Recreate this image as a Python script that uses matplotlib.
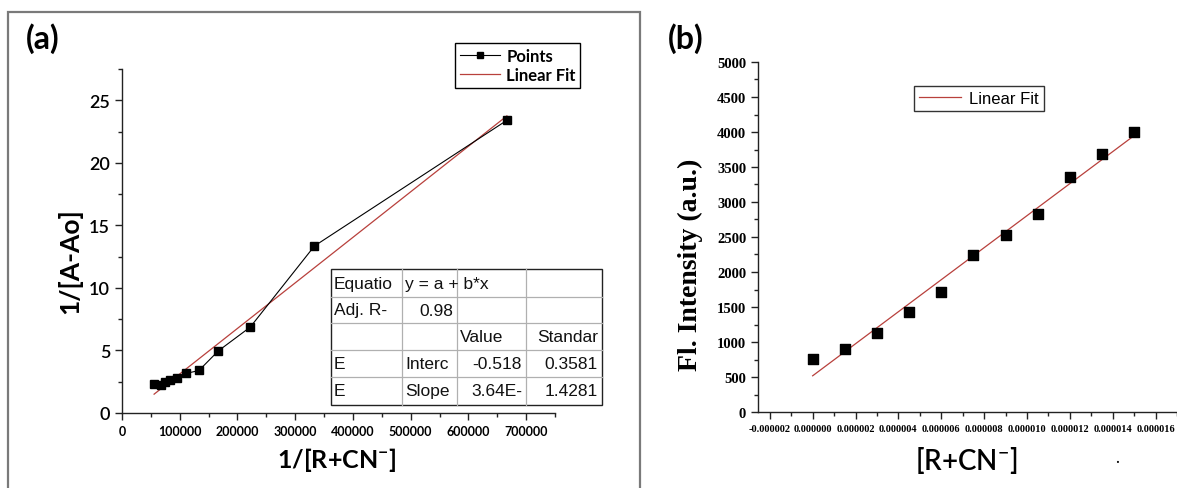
import numpy as np
import matplotlib
matplotlib.use("Agg")
import matplotlib.pyplot as plt
from matplotlib.lines import Line2D
from matplotlib.patches import Rectangle
from matplotlib.ticker import MultipleLocator, FuncFormatter, FixedLocator

# ---------------- data ----------------
# panel (a): 1/[R+CN-] vs 1/[A-A0]
a_x = [55600, 66700, 74100, 83300, 95200, 111100, 133300, 166700, 222200, 333300, 666700]
a_y = [2.34, 2.26, 2.47, 2.65, 2.79, 3.16, 3.40, 4.96, 6.87, 13.35, 23.4]
a_intercept = -0.518
a_slope = 3.64e-5
a_xticks = [0, 100000, 200000, 300000, 400000, 500000, 600000, 700000]
a_yticks = [0, 5, 10, 15, 20, 25]

# fit table text
table_rows = [
    ["Equatio", "y = a + b*x", "", ""],
    ["Adj. R-", "0.98", "", ""],
    ["", "", "Value", "Standar"],
    ["E", "Interc", "-0.518", "0.3581"],
    ["E", "Slope", "3.64E-", "1.4281"],
]

# panel (b): [R+CN-] vs fluorescence intensity
b_x = [0.0, 1.5e-6, 3.0e-6, 4.5e-6, 6.0e-6, 7.5e-6, 9.0e-6, 10.5e-6, 12.0e-6, 13.5e-6, 15.0e-6]
b_y = [752, 895, 1124, 1429, 1714, 2238, 2529, 2833, 3357, 3690, 4000]
b_xticks = [-2e-6, 0.0, 2e-6, 4e-6, 6e-6, 8e-6, 10e-6, 12e-6, 14e-6, 16e-6]
b_yticks = [0, 500, 1000, 1500, 2000, 2500, 3000, 3500, 4000, 4500, 5000]

# ---------------- figure ----------------
W, H = 1177, 489
fig = plt.figure(figsize=(W / 100, H / 100), dpi=100)
fig.patch.set_facecolor("white")

def fx(px):
    return px / W

def fy(py):
    return 1 - py / H

RED = "#b8403c"
SANS = ["Lato", "DejaVu Sans"]
SERIF = ["Liberation Serif", "DejaVu Serif"]
ARIAL = ["Liberation Sans", "DejaVu Sans"]
plt.rcParams["mathtext.default"] = "regular"

# frame around panel (a)
fig.add_artist(Rectangle((fx(8), fy(495)), fx(640) - fx(8), fy(13) - fy(495),
                         transform=fig.transFigure, fill=False,
                         edgecolor="#7a7a7a", linewidth=1.6))

# ---------------- panel (a) ----------------
axa = fig.add_axes([fx(122), fy(414), fx(555) - fx(122), fy(70) - fy(414)])
axa.plot(a_x, a_y, color="black", lw=0.8, marker="s", ms=6, mfc="black", mec="black", zorder=3)
xf = np.array([min(a_x), max(a_x)])
axa.plot(xf, a_intercept + a_slope * xf, color=RED, lw=0.9, zorder=2)
axa.set_xlim(0, 750000)
axa.set_ylim(0, 27.5)
axa.xaxis.set_major_locator(FixedLocator(a_xticks))
axa.xaxis.set_minor_locator(MultipleLocator(50000))
axa.yaxis.set_major_locator(FixedLocator(a_yticks))
axa.yaxis.set_minor_locator(MultipleLocator(2.5))
axa.xaxis.set_major_formatter(FuncFormatter(lambda v, p: f"{int(round(v))}"))
for s in ["top", "right"]:
    axa.spines[s].set_visible(False)
for s in ["left", "bottom"]:
    axa.spines[s].set_linewidth(1.0)
    axa.spines[s].set_color("#222222")
axa.tick_params(which="major", direction="out", length=5, width=1, color="#222222")
axa.tick_params(which="minor", direction="out", length=3, width=1, color="#222222")
for lab in axa.get_xticklabels():
    lab.set_family(SANS); lab.set_fontweight("bold"); lab.set_fontsize(9)
for lab in axa.get_yticklabels():
    lab.set_family(SANS); lab.set_fontsize(13); lab.set_fontweight(600)
axa.set_xlabel("1/[R+CN$^{-}$]", family=SANS, fontweight="bold", fontsize=18)
axa.set_ylabel("1/[A-Ao]", family=SANS, fontweight="bold", fontsize=19)
axa.xaxis.set_label_coords((337 - 122) / (555 - 122), -(460 - 414) / (414 - 70), transform=axa.transAxes)
axa.yaxis.set_label_coords(-(122 - 70) / (555 - 122), (414 - 261) / (414 - 70), transform=axa.transAxes)
axa.xaxis.label.set_va("center")
axa.yaxis.label.set_va("center")

h_pts = Line2D([], [], color="black", lw=0.8, marker="s", ms=5, mfc="black")
h_fit = Line2D([], [], color=RED, lw=0.9)
lega = fig.legend([h_pts, h_fit], ["Points", "Linear Fit"], loc="upper left",
                  bbox_to_anchor=(fx(455), fy(44)), bbox_transform=fig.transFigure,
                  prop={"family": SANS, "weight": "bold", "size": 12},
                  frameon=True, fancybox=False, edgecolor="black", framealpha=1,
                  handlelength=2.4, handletextpad=0.4, borderpad=0.28, labelspacing=0.2,
                  numpoints=1, borderaxespad=0)
lega.get_frame().set_linewidth(1.0)

fig.text(fx(43), fy(39), "(a)", family=SANS, fontweight="bold", fontsize=23,
         ha="center", va="center")

# fit table
col_x = [331, 402, 457, 526, 602]
row_y = [270, 298, 324, 351, 378, 406]
fig.add_artist(Rectangle((fx(col_x[0]), fy(row_y[-1])), fx(col_x[-1]) - fx(col_x[0]),
                         fy(row_y[0]) - fy(row_y[-1]), transform=fig.transFigure,
                         facecolor="white", edgecolor="#222222", linewidth=1.0, zorder=5))
for yy in row_y[1:-1]:
    fig.add_artist(Line2D([fx(col_x[0]), fx(col_x[-1])], [fy(yy), fy(yy)],
                          transform=fig.transFigure, color="#b0b0b0", lw=0.9, zorder=6))
for xx in col_x[1:-1]:
    fig.add_artist(Line2D([fx(xx), fx(xx)], [fy(row_y[0]), fy(row_y[-1])],
                          transform=fig.transFigure, color="#b0b0b0", lw=0.9, zorder=6))
align = [
    ["l", "l", "l", "l"],
    ["l", "r", "l", "l"],
    ["l", "l", "l", "r"],
    ["l", "l", "r", "r"],
    ["l", "l", "r", "r"],
]
for r, row in enumerate(table_rows):
    yc = (row_y[r] + row_y[r + 1]) / 2
    for c, txt in enumerate(row):
        if not txt:
            continue
        if align[r][c] == "l":
            xp, ha = col_x[c] + 3, "left"
        else:
            xp, ha = col_x[c + 1] - 4, "right"
        fig.text(fx(xp), fy(yc), txt, family=ARIAL, fontsize=12.5, ha=ha, va="center",
                 color="#111111", zorder=7)

# ---------------- panel (b) ----------------
axb = fig.add_axes([fx(758), fy(413), fx(1177) - fx(758), fy(63) - fy(413)])
axb.scatter(b_x, b_y, marker="s", s=55, color="black", zorder=3)
cb = np.polyfit(b_x, b_y, 1)
xb = np.array([min(b_x), max(b_x)])
axb.plot(xb, np.polyval(cb, xb), color=RED, lw=0.9, zorder=2)
axb.set_xlim(-2.55e-6, 1.7e-5)
axb.set_ylim(0, 5000)
axb.xaxis.set_major_locator(FixedLocator(b_xticks))
axb.xaxis.set_minor_locator(MultipleLocator(1e-6))
axb.yaxis.set_major_locator(FixedLocator(b_yticks))
axb.yaxis.set_minor_locator(MultipleLocator(250))
axb.xaxis.set_major_formatter(FuncFormatter(lambda v, p: f"{v:.6f}" if abs(v) > 1e-12 else "0.000000"))
for s in ["top", "right"]:
    axb.spines[s].set_visible(False)
for s in ["left", "bottom"]:
    axb.spines[s].set_linewidth(1.0)
    axb.spines[s].set_color("#222222")
axb.tick_params(which="major", direction="out", length=5, width=1, color="#222222")
axb.tick_params(which="minor", direction="out", length=3, width=1, color="#222222")
for lab in axb.get_xticklabels():
    lab.set_family(SERIF); lab.set_fontweight("bold"); lab.set_fontsize(7.5)
for lab in axb.get_yticklabels():
    lab.set_family(SERIF); lab.set_fontweight("bold"); lab.set_fontsize(10.5)
axb.set_xlabel("[R+CN$^{-}$]", family=SANS, fontsize=20, fontweight=600)
axb.set_ylabel("Fl. Intensity (a.u.)", family=SERIF, fontweight="bold", fontsize=20)
axb.xaxis.set_label_coords((966 - 758) / (1177 - 758), -(461 - 413) / (413 - 63), transform=axb.transAxes)
axb.yaxis.set_label_coords(-(758 - 690) / (1177 - 758), (413 - 265) / (413 - 63), transform=axb.transAxes)
axb.xaxis.label.set_va("center")
axb.yaxis.label.set_va("center")

legb = fig.legend([Line2D([], [], color=RED, lw=0.9)], ["Linear Fit"], loc="upper left",
                  bbox_to_anchor=(fx(914), fy(87)), bbox_transform=fig.transFigure,
                  prop={"family": ARIAL, "size": 12},
                  frameon=True, fancybox=False, edgecolor="#333333", framealpha=1,
                  handlelength=2.5, handletextpad=0.5, borderpad=0.3, borderaxespad=0)
legb.get_frame().set_linewidth(1.0)

fig.text(fx(686), fy(39), "(b)", family=SANS, fontweight="bold", fontsize=23,
         ha="center", va="center")
fig.text(fx(1117), fy(458), ".", family=SANS, fontsize=12, ha="center", va="center")

fig.savefig("out.png", dpi=100, facecolor="white")
